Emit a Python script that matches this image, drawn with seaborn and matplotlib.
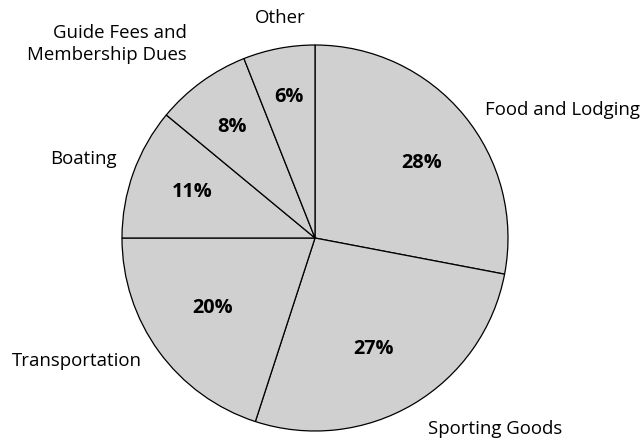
import matplotlib
matplotlib.use("Agg")
import seaborn as sns
from matplotlib import pyplot as plt

# spending categories, clockwise from 12 o'clock
categories = ["Food and Lodging", "Sporting Goods", "Transportation",
              "Boating", "Guide Fees and\nMembership Dues", "Other"]
shares = [28, 27, 20, 11, 8, 6]

sns.set_theme(style="white")
plt.rcParams['font.family'] = ['Open Sans', 'DejaVu Sans']

fig = plt.figure(figsize=(6.44, 4.40), dpi=100)
ax = fig.add_axes([0, 0, 1, 1])

wedges, texts, autotexts = ax.pie(
    shares, labels=categories, startangle=90, counterclock=False,
    center=(315, 202), radius=193, colors=["#d0d0d0"] * len(shares),
    wedgeprops=dict(edgecolor="black", linewidth=0.9),
    autopct="%d%%", pctdistance=0.7, frame=True,
    textprops=dict(fontsize=13.4, color="black"))

# place outer labels like the original
label_pos = [(562, 330, "center"), (495, 11, "center"), (77, 79, "center"),
             (83, 281, "center"), (187, 396, "right"), (280, 422, "center")]
for t, (x, y, ha) in zip(texts, label_pos):
    t.set_position((x, y))
    t.set_ha(ha)
    t.set_va("center")
    if ha == "right":
        t.set_multialignment("right")
        t.set_linespacing(1.25)

pct_pos = [(422, 277), (374, 91), (213, 132), (192, 248), (232, 313), (289, 343)]
for t, (x, y) in zip(autotexts, pct_pos):
    t.set_position((x, y))
    t.set_fontweight("bold")
    t.set_fontsize(14.3)

ax.set_xlim(0, 644)
ax.set_ylim(0, 440)
ax.set_aspect("equal")
ax.axis("off")

fig.savefig("out.png", dpi=100, facecolor="white")
